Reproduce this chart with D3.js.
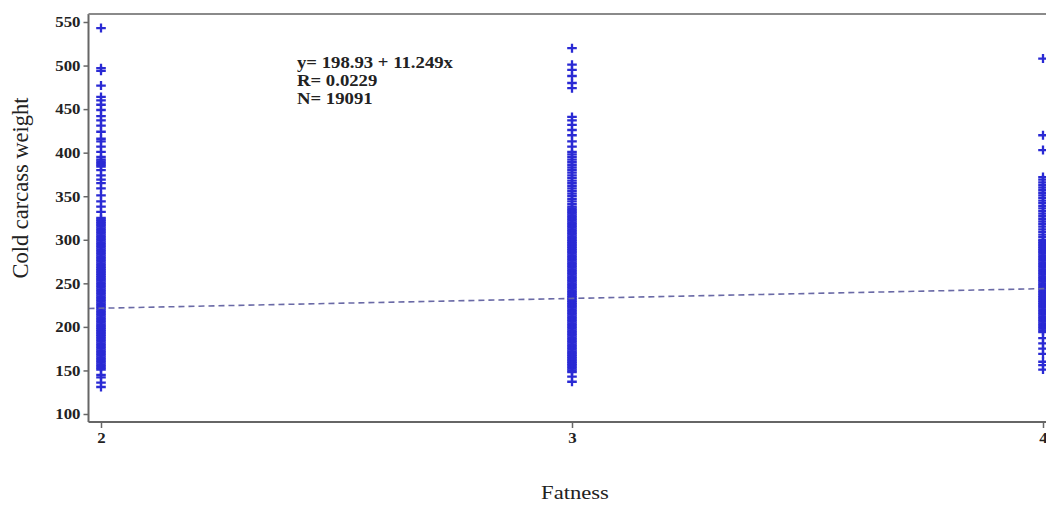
<!DOCTYPE html>
<html>
<head>
<meta charset="utf-8">
<script src="https://cdn.jsdelivr.net/npm/d3@7"></script>
<style>
  html, body { margin: 0; padding: 0; background: #fff; }
  svg { display: block; }
</style>
</head>
<body>
<svg id="chart" width="1046" height="505"></svg>
<script>
// ---- data ----
const categories = [2, 3, 4];
const yTicks = [100, 150, 200, 250, 300, 350, 400, 450, 500, 550];
const fatness2 = [543, 497, 494, 477, 464, 460, 455, 449, 442, 437, 431, 424, 416, 413, 407, 401,
  395, 392, 390, 388, 386, 384, 380, 374, 369, 365, 359, 351, 344, 338, 332,
  325,323,321,319,317,315,313,311,309,307,305,303,301,299,297,295,293,291,289,287,285,283,281,279,
  277,275,273,271,269,267,265,263,261,259,257,255,253,251,249,247,245,243,241,239,237,235,233,231,
  229,227,225,223,221,219,217,215,213,211,209,207,205,203,201,199,197,195,193,191,189,187,185,183,
  181,179,177,175,173,171,169,167,165,163,161,159,157,155,153,151,
  145, 142, 136, 131];
const fatness3 = [520, 501, 495, 488, 480, 474, 441, 437, 432, 426, 420, 413, 407, 401, 398, 395,
  392, 389, 386, 383, 380, 377, 374, 371, 368, 365, 362, 359, 356, 353, 350, 347, 344, 341,
  338,336,334,332,330,328,326,324,322,320,318,316,314,312,310,308,306,304,302,300,298,296,294,292,
  290,288,286,284,282,280,278,276,274,272,270,268,266,264,262,260,258,256,254,252,250,248,246,244,
  242,240,238,236,234,232,230,228,226,224,222,220,218,216,214,212,210,208,206,204,202,200,198,196,
  194,192,190,188,186,184,182,180,178,176,174,172,170,168,166,164,162,160,158,156,154,152,150,148,
  143, 137];
const fatness4 = [508, 420, 403, 372, 369, 366, 363, 360, 357, 354, 351, 348, 345, 342, 339, 336,
  333, 330, 327, 324, 321, 318, 315, 312, 309, 306, 303, 300,
  298,296,294,292,290,288,286,284,282,280,278,276,274,272,270,268,266,264,262,260,258,256,254,252,
  250,248,246,244,242,240,238,236,234,232,230,228,226,224,222,220,218,216,214,212,210,208,206,204,
  202,200,198,196,194,
  187, 181, 175, 169, 160, 156, 151];
const seriesValues = [fatness2, fatness3, fatness4];
const intercept = 198.93;
const slope = 11.249;
const statLines = ["y= 198.93 + 11.249x", "R= 0.0229", "N= 19091"];

// ---- drawing ----
const svg = d3.select("#chart");
const x = d3.scaleLinear().domain([2, 4]).range([101, 1043]);
const y = d3.scaleLinear().domain([100, 550]).range([414, 22]);
const xMin = x.invert(88.5), xMax = x.invert(1060);
const yMin = y.invert(422), yMax = y.invert(14);
const stretch = 1.12;

const serif = "'Liberation Serif', 'Times New Roman', serif";

// clip
svg.append("defs").append("clipPath").attr("id", "plotclip")
  .append("rect").attr("x", x(xMin)).attr("y", y(yMax))
  .attr("width", x(xMax) - x(xMin)).attr("height", y(yMin) - y(yMax));

const plot = svg.append("g").attr("clip-path", "url(#plotclip)");

// points
const pts = [];
categories.forEach((c, i) => seriesValues[i].forEach(v => pts.push({c, v})));
plot.append("g").selectAll("path").data(pts).join("path")
  .attr("transform", d => `translate(${x(d.c)},${y(d.v)})`)
  .attr("d", "M-4.8,0H4.8M0,-4.5V4.5")
  .attr("fill", "none")
  .attr("stroke", "#2a2ad4")
  .attr("stroke-width", 2.3);

// regression line
plot.append("line")
  .attr("x1", x(xMin)).attr("y1", y(intercept + slope * xMin))
  .attr("x2", x(xMax)).attr("y2", y(intercept + slope * xMax))
  .attr("stroke", "#6a6aa6").attr("stroke-width", 1.6)
  .attr("stroke-dasharray", "6,4");

// frame
const frame = svg.append("g").attr("stroke", "#666").attr("stroke-width", 2).attr("fill", "none");
frame.append("line").attr("x1", x(xMin)).attr("x2", x(xMin)).attr("y1", y(yMax)).attr("y2", y(yMin));
frame.append("line").attr("x1", x(xMin)).attr("x2", x(xMax)).attr("y1", y(yMin)).attr("y2", y(yMin));
frame.append("line").attr("x1", x(xMin)).attr("x2", x(xMax)).attr("y1", y(yMax)).attr("y2", y(yMax)).attr("stroke", "#8a8a8a");

// y axis
const yAxis = svg.append("g").attr("transform", `translate(${x(xMin)},0)`)
  .call(d3.axisLeft(y).tickValues(yTicks).tickSize(5).tickPadding(3).tickFormat(d3.format("d")));
yAxis.select(".domain").remove();
yAxis.selectAll(".tick line").attr("stroke", "#666").attr("stroke-width", 1.5);
yAxis.selectAll("text").attr("font-family", serif).attr("font-size", 15).attr("font-weight", "bold").attr("fill", "#222")
  .attr("x", -8 / stretch).attr("transform", `scale(${stretch},1)`);

// x axis
const xAxis = svg.append("g").attr("transform", `translate(0,${y(yMin)})`)
  .call(d3.axisBottom(x).tickValues(categories).tickSize(6).tickPadding(4).tickFormat(d3.format("d")));
xAxis.select(".domain").remove();
xAxis.selectAll(".tick line").attr("stroke", "#666").attr("stroke-width", 1.5);
xAxis.selectAll("text").attr("font-family", serif).attr("font-size", 15).attr("font-weight", "bold").attr("fill", "#222")
  .attr("transform", `scale(${stretch},1)`);

// axis titles
svg.append("text").attr("transform", "translate(28,188) rotate(-90)")
  .attr("text-anchor", "middle").attr("font-family", serif).attr("font-size", 22.5).attr("fill", "#222")
  .text("Cold carcass weight");
svg.append("text").attr("transform", `translate(575,499) scale(1.19,1)`)
  .attr("text-anchor", "middle").attr("font-family", serif).attr("font-size", 19).attr("fill", "#222")
  .text("Fatness");

// stats annotation
svg.append("g").attr("transform", `translate(297,0) scale(1.17,1)`)
  .selectAll("text").data(statLines).join("text")
  .attr("x", 0).attr("y", (d, i) => 68 + i * 18)
  .attr("font-family", serif).attr("font-size", 16).attr("font-weight", "bold").attr("fill", "#222")
  .text(d => d);
</script>
</body>
</html>
